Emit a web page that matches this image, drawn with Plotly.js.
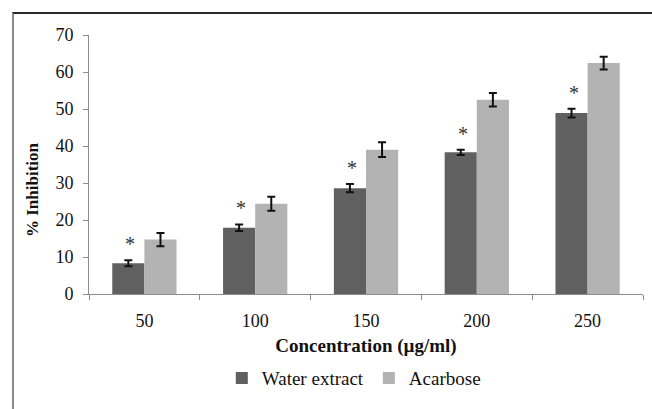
<!DOCTYPE html>
<html>
<head>
<meta charset="utf-8">
<script src="https://cdn.plot.ly/plotly-3.0.1.min.js"></script>
<style>
html,body{margin:0;padding:0;background:#fff;}
#wrap{position:relative;width:652px;height:409px;}
#chart{width:652px;height:409px;}
#frame{position:absolute;left:12px;top:12px;width:640px;height:397px;border-top:2px solid #2a2a2a;border-left:2px solid #8a8a8a;pointer-events:none;box-sizing:border-box;}
</style>
</head>
<body>
<div id="wrap"><div id="chart"></div><div id="frame"></div></div>
<script>
const categories = ["50", "100", "150", "200", "250"];
const waterExtract = [8.3, 17.9, 28.6, 38.3, 48.9];
const waterErr = [0.8, 0.9, 1.1, 0.7, 1.2];
const acarbose = [14.7, 24.4, 39.0, 52.5, 62.4];
const acarboseErr = [1.8, 1.9, 2.0, 1.8, 1.7];
const significance = ["*", "*", "*", "*", "*"];

const font = "Liberation Serif";

const traces = [
  {
    type: "bar", name: "Water extract", x: categories, y: waterExtract,
    marker: {color: "#606060"},
    error_y: {type: "data", array: waterErr, visible: true, color: "#111", thickness: 2, width: 4}
  },
  {
    type: "bar", name: "Acarbose", x: categories, y: acarbose,
    marker: {color: "#b3b3b3"},
    error_y: {type: "data", array: acarboseErr, visible: true, color: "#111", thickness: 2, width: 4}
  }
];

const annotations = categories.map((c, i) => ({
  x: i, y: waterExtract[i] + waterErr[i], xref: "x", yref: "y",
  text: significance[i], showarrow: false, xshift: -14, xanchor: "center", yanchor: "bottom", yshift: 3,
  font: {family: font, size: 20, color: "#333"}
}));
annotations.push({
  text: "<b>% Inhibition</b>", xref: "paper", yref: "paper", x: -0.103, y: 0.405,
  xanchor: "center", yanchor: "middle",
  textangle: -90, showarrow: false, font: {family: font, size: 17, color: "#111"}
});

const layout = {
  width: 652, height: 409,
  margin: {l: 89, r: 9, t: 35, b: 115},
  paper_bgcolor: "#fff", plot_bgcolor: "#fff",
  barmode: "group", bargap: 0.42, bargroupgap: 0,
  font: {family: font, size: 16, color: "#111"},
  showlegend: true,
  legend: {orientation: "h", x: 0.478, xanchor: "center", y: -0.325, yanchor: "middle",
           font: {family: font, size: 19, color: "#111"}, traceorder: "normal"},
  xaxis: {
    type: "category", showgrid: false, showline: true, linecolor: "#8c8c8c", linewidth: 1,
    ticks: "outside", tickson: "boundaries", ticklen: 5, tickcolor: "#8c8c8c",
    tickfont: {family: font, size: 18, color: "#111"}, ticklabelstandoff: 10,
    title: {text: "<b>Concentration (µg/ml)</b>", font: {family: font, size: 19, color: "#111"}, standoff: 9}
  },
  yaxis: {
    range: [0, 70], dtick: 10, showgrid: false, zeroline: false, showline: true,
    linecolor: "#8c8c8c", linewidth: 1, ticks: "outside", ticklen: 5, tickcolor: "#8c8c8c",
    tickfont: {family: font, size: 18, color: "#111"}, ticklabelstandoff: 6
  },
  annotations: annotations
};

Plotly.newPlot("chart", traces, layout, {displayModeBar: false, staticPlot: true});
</script>
</body>
</html>
